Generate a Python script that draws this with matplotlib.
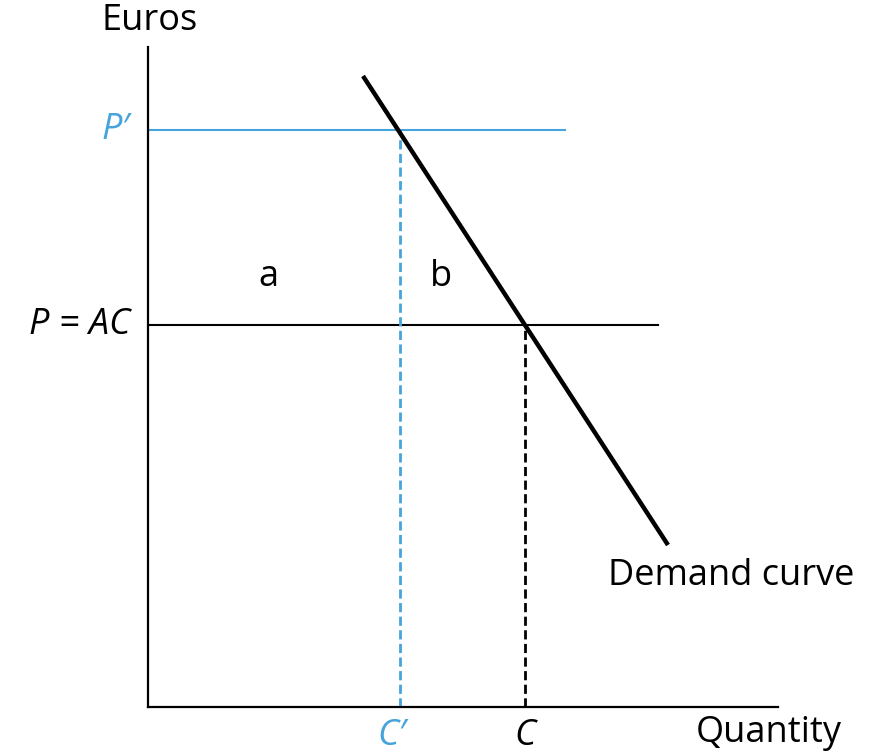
import matplotlib.pyplot as plt

# demand curve end points (quantity, euros), in arbitrary units
demand_q = [215, 520]
demand_p = [631, 162]

p_prime = 577      # higher price P'
p_ac = 382         # P = AC
c_prime = 252      # quantity at P'
c_eq = 377         # quantity at P = AC
p_prime_end = 417
p_ac_end = 510

blue = '#46a3dc'
plt.rcParams['font.family'] = ['Open Sans', 'DejaVu Sans']

fig = plt.figure(figsize=(8.78, 7.55), dpi=100)
ax = fig.add_axes([148 / 878, 48 / 755, 630 / 878, 660 / 755])
ax.set_xlim(0, 630)
ax.set_ylim(0, 660)
for s in ['top', 'right']:
    ax.spines[s].set_visible(False)
for s in ['left', 'bottom']:
    ax.spines[s].set_linewidth(1.6)
ax.set_xticks([])
ax.set_yticks([])

ax.plot([0, p_prime_end], [p_prime, p_prime], color=blue, lw=1.5)
ax.plot([0, p_ac_end], [p_ac, p_ac], color='black', lw=1.5)
ax.plot([c_prime, c_prime], [0, p_prime], color=blue, lw=2, ls=(0, (3.3, 1.6)))
ax.plot([c_eq, c_eq], [0, p_ac], color='black', lw=2, ls=(0, (3.3, 1.6)))
ax.plot(demand_q, demand_p, color='black', lw=3.2, solid_capstyle='butt')

fs = 26
ax.text(-18, p_prime, 'P′', color=blue, fontsize=fs, style='italic',
        ha='right', va='center')
ax.text(-18, p_ac, 'P = AC', color='black', fontsize=fs, style='italic',
        ha='right', va='center')
ax.text(c_prime - 8, -29, 'C′', color=blue, fontsize=fs, style='italic',
        ha='center', va='center')
ax.text(c_eq, -29, 'C', color='black', fontsize=fs, style='italic',
        ha='center', va='center')
ax.text(120, 430, 'a', fontsize=fs, ha='center', va='center')
ax.text(293, 430, 'b', fontsize=fs, ha='center', va='center')
ax.text(2, 686, 'Euros', fontsize=fs, ha='center', va='center')
ax.text(621, -26, 'Quantity', fontsize=fs, ha='center', va='center')
ax.text(460, 131, 'Demand curve', fontsize=fs, ha='left', va='center')

for t in ax.texts:
    t.set_clip_on(False)

fig.savefig('out.png', dpi=100)
